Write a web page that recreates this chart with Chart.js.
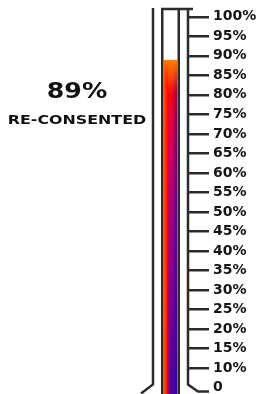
<!DOCTYPE html>
<html>
<head>
<meta charset="utf-8">
<script src="https://cdn.jsdelivr.net/npm/chart.js@4.4.1/dist/chart.umd.min.js"></script>
<style>
  html, body { margin: 0; padding: 0; background: #fff; overflow: hidden; }
  #wrap { position: relative; width: 259px; height: 394px; overflow: hidden; }
  #cvs { position: absolute; left: 0; top: 0; }
  .lbl { position: absolute; left: 0; width: 154px; text-align: center;
         font-family: "DejaVu Sans"; font-weight: bold; color: #111; white-space: nowrap; }
  #pct { top: 78px; font-size: 22px; transform: scaleX(1.15); }
  #cap { top: 112px; font-size: 13px; transform: scaleX(1.22); }
</style>
</head>
<body>
<div id="wrap">
  <canvas id="cvs" width="259" height="440"></canvas>
  <div class="lbl" id="pct"></div>
  <div class="lbl" id="cap"></div>
</div>
<script>
var categories = ['RE-CONSENTED'];
var values     = [89];
var tickValues = [100, 95, 90, 85, 80, 75, 70, 65, 60, 55, 50, 45, 40, 35, 30, 25, 20, 15, 10, 5];
var tickLabels = ['100%', '95%', '90%', '85%', '80%', '75%', '70%', '65%', '60%', '55%',
                  '50%', '45%', '40%', '35%', '30%', '25%', '20%', '15%', '10%', '0'];

var BAR_SHARE = 0.4;
var AXIS_WIDTH = 70;
var INK = '#2b2b2b';

document.getElementById('pct').textContent = values[0] + '%';
document.getElementById('cap').textContent = categories[0];

// 2d fill: vertical orange->purple, with a red/orange left edge and a darker right edge
var patternCache = {};
function tubeFill(context) {
    var chart = context.chart;
    var a = chart.chartArea;
    if (!a) return '#ff7f00';
    var xs = chart.scales.x, ys = chart.scales.y;
    var w = (a.right - a.left) * BAR_SHARE;
    var left = xs.getPixelForValue(0) - w / 2;
    var top = ys.getPixelForValue(values[0]);
    var bottom = ys.getPixelForValue(0);
    var key = [left, top, bottom, w].join('|');
    if (patternCache[key]) return patternCache[key];

    var c = document.createElement('canvas');
    c.width = chart.width; c.height = chart.height;
    var g = c.getContext('2d');
    var v = g.createLinearGradient(0, top, 0, bottom);
    v.addColorStop(0.00, '#ff7f00');
    v.addColorStop(0.05, '#ff4a00');
    v.addColorStop(0.10, '#ff0010');
    v.addColorStop(0.17, '#e8003a');
    v.addColorStop(0.26, '#d00060');
    v.addColorStop(0.38, '#b40078');
    v.addColorStop(0.53, '#92008e');
    v.addColorStop(0.72, '#74009a');
    v.addColorStop(0.89, '#5a00a0');
    v.addColorStop(1.00, '#4a00a8');
    g.fillStyle = v;
    g.fillRect(left, top, w, bottom - top);

    var o = document.createElement('canvas');
    o.width = c.width; o.height = c.height;
    var og = o.getContext('2d');
    var h = og.createLinearGradient(left, 0, left + w, 0);
    h.addColorStop(0.00, 'rgba(255,110,0,1)');
    h.addColorStop(0.22, 'rgba(255,20,0,1)');
    h.addColorStop(0.45, 'rgba(255,0,0,0)');
    h.addColorStop(0.60, 'rgba(30,0,140,0)');
    h.addColorStop(1.00, 'rgba(30,0,140,0.55)');
    og.fillStyle = h;
    og.fillRect(left, top, w, bottom - top);
    og.globalCompositeOperation = 'destination-in';
    var m = og.createLinearGradient(0, top, 0, bottom);
    m.addColorStop(0, 'rgba(0,0,0,0)');
    m.addColorStop(0.1, 'rgba(0,0,0,1)');
    m.addColorStop(1, 'rgba(0,0,0,1)');
    og.fillStyle = m;
    og.fillRect(0, 0, o.width, o.height);
    g.drawImage(o, 0, 0);

    patternCache[key] = chart.ctx.createPattern(c, 'no-repeat');
    return patternCache[key];
}

// glass outline of the thermometer, hung on the chart area and the bar element
var tubeOutline = {
    id: 'tubeOutline',
    afterDatasetsDraw: function(chart) {
        var ctx = chart.ctx, a = chart.chartArea, ys = chart.scales.y;
        var bar = chart.getDatasetMeta(0).data[0];
        var half = bar.width / 2;
        var tl = bar.x - half - 1.25, tr = bar.x + half + 1.25;
        var bulb = ys.getPixelForValue(5) - 3;
        ctx.save();
        ctx.strokeStyle = INK;
        ctx.lineWidth = 2.5;
        ctx.beginPath();
        ctx.moveTo(tl, a.top); ctx.lineTo(tl, chart.height);
        ctx.moveTo(tr, a.top); ctx.lineTo(tr, chart.height);
        ctx.moveTo(tl - 1.25, a.top); ctx.lineTo(a.right + 5, a.top);
        ctx.moveTo(a.left, a.top - 1); ctx.lineTo(a.left, bulb); ctx.lineTo(a.left - 12, bulb + 9);
        ctx.moveTo(a.right, a.top - 1); ctx.lineTo(a.right, bulb);
        ctx.lineTo(a.right + 10, bulb + 7); ctx.lineTo(a.right + 21, bulb + 7);
        ctx.stroke();
        ctx.restore();
    }
};

new Chart(document.getElementById('cvs').getContext('2d'), {
    type: 'bar',
    data: {
        labels: categories,
        datasets: [{
            data: values,
            backgroundColor: tubeFill,
            borderWidth: 0,
            categoryPercentage: 1,
            barPercentage: BAR_SHARE
        }]
    },
    options: {
        responsive: false,
        animation: false,
        devicePixelRatio: 1,
        layout: { padding: { left: 153, right: 1, top: 9, bottom: 33 } },
        plugins: { legend: { display: false }, tooltip: { enabled: false } },
        scales: {
            x: { display: false },
            y: {
                position: 'right',
                min: 0,
                max: 102,
                afterBuildTicks: function(scale) {
                    scale.ticks = tickValues.map(function(v) { return { value: v }; });
                },
                afterFit: function(scale) {
                    scale.width = AXIS_WIDTH;
                    scale.paddingTop = 0;
                    scale.paddingBottom = 0;
                },
                border: { display: false },
                grid: {
                    drawOnChartArea: false,
                    drawTicks: true,
                    tickLength: 21,
                    lineWidth: 2.5,
                    color: function(c) {
                        return c.tick && c.tick.value === 5 ? 'rgba(0,0,0,0)' : INK;
                    }
                },
                ticks: {
                    padding: 4,
                    color: '#151515',
                    font: { family: 'DejaVu Sans', weight: 'bold', size: 14 },
                    callback: function(v) {
                        var i = tickValues.indexOf(v);
                        return i < 0 ? '' : tickLabels[i];
                    }
                }
            }
        }
    },
    plugins: [tubeOutline]
});
</script>
</body>
</html>
